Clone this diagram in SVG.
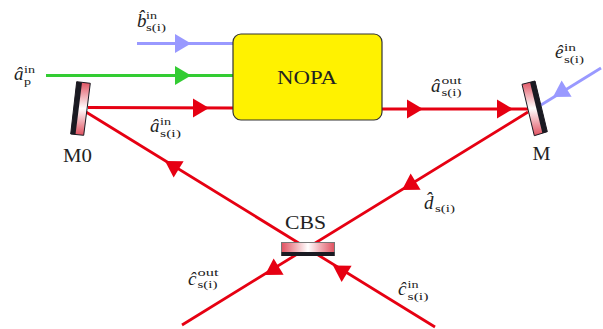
<svg xmlns="http://www.w3.org/2000/svg" width="603" height="329" viewBox="0 0 603 329">
<style>
text{font-family:"Liberation Serif","Times New Roman",serif;fill:#222}
.n{font-size:19px}
.v{font-size:19px;font-style:italic}
.s{font-size:11px;font-style:normal}
.r{stroke:#e60012;fill:none;stroke-width:2.8}
.b{stroke:#9999ff;fill:none;stroke-width:2.8}
.g{stroke:#33cc33;fill:none;stroke-width:2.8}
.fr{fill:#e60012}.fb{fill:#9999ff}.fg{fill:#33cc33}
</style>
<defs>
<path id="a" d="M-16,-9.5L0,0L-16,9.5Z"/>
<linearGradient id="gv" x1="0" y1="0" x2="0" y2="1"><stop offset="0" stop-color="#e0505f"/><stop offset=".5" stop-color="#fff"/><stop offset="1" stop-color="#e0505f"/></linearGradient>
<linearGradient id="gh" x1="0" y1="0" x2="1" y2="0"><stop offset="0" stop-color="#e0505f"/><stop offset=".5" stop-color="#fff"/><stop offset="1" stop-color="#e0505f"/></linearGradient>
</defs>
<g id="connectors">
<path class="b" d="M137,43.5H233"/>
<path class="g" d="M46,75.5H233"/>
<path class="r" d="M88,107.5L233,108"/>
<path class="r" d="M382,109H528"/>
<path class="b" d="M601,68L541,105"/>
<path class="r" d="M528,112L182,325"/>
<path class="r" d="M86,112L435,327"/>
<use href="#a" class="fb" transform="translate(191,43.5)"/>
<use href="#a" class="fg" transform="translate(191,75.5)"/>
<use href="#a" class="fr" transform="translate(209,108)"/>
<use href="#a" class="fr" transform="translate(423,109)"/>
<use href="#a" class="fr" transform="translate(513,109)"/>
<use href="#a" class="fb" transform="translate(553,97) rotate(148.4)"/>
<use href="#a" class="fr" transform="translate(402,190) rotate(148.4)"/>
<use href="#a" class="fr" transform="translate(165,161) rotate(211.6)"/>
<use href="#a" class="fr" transform="translate(265,275) rotate(148.4)"/>
<use href="#a" class="fr" transform="translate(333,265.5) rotate(211.6)"/>
</g>
<g id="nopa">
<rect x="233" y="34" width="149" height="86" rx="8" fill="#fff200" stroke="#333" stroke-width="1.2"/>
<text class="n" x="277" y="84" textLength="60" lengthAdjust="spacingAndGlyphs">NOPA</text>
</g>
<g id="m0">
<polygon points="76.700,81.700 90.300,83.300 83.700,135.300 70.700,134" fill="url(#gv)" stroke="#1a1a22" stroke-width="1"/>
<polygon points="76.700,81.700 82,82.400 75.500,134.500 70.700,134" fill="#1a1a22"/>
<text class="n" x="63" y="162" textLength="29" lengthAdjust="spacingAndGlyphs">M0</text>
</g>
<g id="m">
<polygon points="522,84.300 535,81 547.300,131.700 534.300,135.700" fill="url(#gv)" stroke="#1a1a22" stroke-width="1"/>
<polygon points="530,82.300 535,81 547.300,131.700 542.400,133.200" fill="#1a1a22"/>
<text class="n" x="532.500" y="160" textLength="18" lengthAdjust="spacingAndGlyphs">M</text>
</g>
<g id="cbs">
<rect x="281.500" y="242.500" width="53" height="13" fill="url(#gh)" stroke="#777" stroke-width="1"/>
<rect x="281.500" y="252" width="53" height="4" fill="#1a1a22"/>
<text class="n" x="285" y="229" textLength="41" lengthAdjust="spacingAndGlyphs">CBS</text>
</g>
<g id="labels">
<text class="v" x="137" y="26.500">b̂<tspan class="s" x="146" y="18.500" textLength="11" lengthAdjust="spacingAndGlyphs">in</tspan><tspan class="s" x="146" y="31" textLength="20" lengthAdjust="spacingAndGlyphs">s(i)</tspan></text>
<text class="v" x="14" y="80">â<tspan class="s" x="24" y="73" textLength="11" lengthAdjust="spacingAndGlyphs">in</tspan><tspan class="s" x="24" y="85.300" textLength="7" lengthAdjust="spacingAndGlyphs">p</tspan></text>
<text class="v" x="150" y="132">â<tspan class="s" x="160" y="125" textLength="11" lengthAdjust="spacingAndGlyphs">in</tspan><tspan class="s" x="160" y="137.300" textLength="21" lengthAdjust="spacingAndGlyphs">s(i)</tspan></text>
<text class="v" x="431" y="92">â<tspan class="s" x="441.500" y="84" textLength="20" lengthAdjust="spacingAndGlyphs">out</tspan><tspan class="s" x="441.500" y="96.300" textLength="20" lengthAdjust="spacingAndGlyphs">s(i)</tspan></text>
<text class="v" x="555" y="58">ê<tspan class="s" x="564" y="51" textLength="12" lengthAdjust="spacingAndGlyphs">in</tspan><tspan class="s" x="564" y="63.300" textLength="20" lengthAdjust="spacingAndGlyphs">s(i)</tspan></text>
<text class="v" x="424" y="209">d̂<tspan class="s" x="435" y="212" textLength="20" lengthAdjust="spacingAndGlyphs">s(i)</tspan></text>
<text class="v" x="188" y="285">ĉ<tspan class="s" x="197.500" y="275.500" textLength="21" lengthAdjust="spacingAndGlyphs">out</tspan><tspan class="s" x="197.500" y="287.800" textLength="20" lengthAdjust="spacingAndGlyphs">s(i)</tspan></text>
<text class="v" x="398" y="295">ĉ<tspan class="s" x="407.500" y="287.500" textLength="11" lengthAdjust="spacingAndGlyphs">in</tspan><tspan class="s" x="407.500" y="299.800" textLength="21" lengthAdjust="spacingAndGlyphs">s(i)</tspan></text>
</g>
</svg>
